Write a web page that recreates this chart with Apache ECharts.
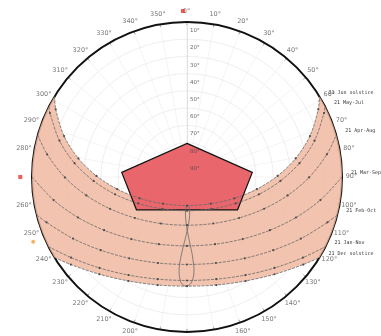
<!DOCTYPE html>
<html>
<head>
<meta charset="utf-8">
<script src="https://cdn.jsdelivr.net/npm/echarts@6/dist/echarts.min.js"></script>
<style>
  html, body { margin: 0; padding: 0; background: #ffffff; }
  #chart { width: 381px; height: 336px; }
</style>
</head>
<body>
<div id="chart"></div>
<script>
// Sun path diagram (about 40°N). Every point is [altitude°, azimuth°],
// azimuth clockwise from north, altitude 90° at the centre.

const altitudeTicks = [10, 20, 30, 40, 50, 60, 70, 80, 90];
const azimuthTicks = [0, 10, 20, 30, 40, 50, 60, 70, 80, 90, 100, 110, 120, 130, 140, 150, 160, 170,
  180, 190, 200, 210, 220, 230, 240, 250, 260, 280, 290, 300, 310, 320, 330, 340, 350];

const pathNames = ['21 Jun solstice', '21 May-Jul', '21 Apr-Aug', '21 Mar-Sep', '21 Feb-Oct', '21 Jan-Nov', '21 Dec solstice'];

// Each path runs from sunset (west) through noon to sunrise (east), hourly.
const junPath = [[0, 301.3], [4.2, 297.3], [14.8, 288.4], [26.0, 279.7], [37.4, 270.7], [48.8, 260.2], [59.8, 245.8],
  [69.2, 221.8], [73.4, 180], [69.2, 138.2], [59.8, 114.2], [48.8, 99.8], [37.4, 89.3], [26.0, 80.3], [14.8, 71.6],
  [4.2, 62.7], [0, 58.7]];
const mayJulPath = [[0, 297.1], [2.2, 295.0], [13.0, 285.9], [24.2, 277.0], [35.7, 267.6], [47.0, 256.5], [57.8, 241.5],
  [66.6, 217.6], [70.4, 180], [66.6, 142.4], [57.8, 118.5], [47.0, 103.5], [35.7, 92.4], [24.2, 83.0], [13.0, 74.1],
  [2.2, 65.0], [0, 62.9]];
const aprAugPath = [[0, 285.7], [7.7, 279.2], [19.1, 269.8], [30.6, 259.6], [41.6, 247.6], [51.5, 231.8], [59.0, 209.4],
  [62.0, 180], [59.0, 150.6], [51.5, 128.2], [41.6, 112.4], [30.6, 100.4], [19.1, 90.2], [7.7, 80.8], [0, 74.3]];
const marSepPath = [[0, 270], [11.4, 260.2], [22.5, 249.6], [32.8, 237.3], [41.6, 221.9], [47.7, 202.7], [50.0, 180],
  [47.7, 157.3], [41.6, 138.1], [32.8, 122.7], [22.5, 110.4], [11.4, 99.8], [0, 90]];
const febOctPath = [[0, 255.8], [4.3, 252.1], [14.8, 241.6], [24.3, 229.7], [32.1, 215.4], [37.3, 198.6], [39.2, 180],
  [37.3, 161.4], [32.1, 144.6], [24.3, 130.3], [14.8, 118.4], [4.3, 107.9], [0, 104.2]];
const janNovPath = [[0, 243.3], [8.0, 235.2], [16.7, 223.9], [23.7, 210.8], [28.3, 196.0], [29.9, 180],
  [28.3, 164.0], [23.7, 149.2], [16.7, 136.1], [8.0, 124.8], [0, 116.7]];
const decPath = [[0, 238.7], [5.5, 233.0], [14.0, 222.0], [20.7, 209.4], [25.0, 195.2], [26.6, 180],
  [25.0, 164.8], [20.7, 150.6], [14.0, 138.0], [5.5, 127.0], [0, 121.3]];

// Noon sun position through the year (figure of eight).
const noonAnalemma = [[26.6, 180.4], [27.0, 179.2], [28.1, 178.0], [29.9, 177.0], [33.0, 176.1], [36.0, 175.7],
  [42.2, 175.9], [46.0, 176.3], [50.0, 177.2], [54.4, 178.3], [59.8, 180.0], [65.0, 181.6], [68.6, 182.4],
  [72.0, 181.6], [73.2, 180.0], [73.4, 178.7], [73.1, 176.9], [71.7, 175.8], [69.5, 175.6], [65.6, 176.9],
  [62.0, 178.4], [58.4, 180.0], [54.5, 181.5], [50.5, 182.8], [47.0, 183.7], [43.1, 184.4], [39.1, 184.9],
  [35.0, 184.8], [30.0, 183.8], [28.2, 182.9], [27.0, 181.7], [26.6, 180.4]];

// Obstruction outline.
const obstruction = [[70.5, 0], [52, 86], [55, 123], [55, 237], [52, 274]];

// Markers just outside the horizon ring.
const redMarkers = [[-6.4, 358.6], [-6.8, 270]];
const orangeMarkers = [[-6.9, 247.2]];

const paths = [junPath, mayJulPath, aprAugPath, marSepPath, febOctPath, janNovPath, decPath];

const AZ_LABEL_ALT = -5.8;   // ring on which azimuth labels sit (outside the horizon)

const chart = echarts.init(document.getElementById('chart'), null, { renderer: 'canvas' });

function bandPolygon(params, api) {
  const pts = [];
  junPath.forEach(p => pts.push(api.coord(p)));
  const east0 = junPath[junPath.length - 1][1];
  const east1 = decPath[decPath.length - 1][1];
  for (let a = east0 + 1; a < east1; a += 1) pts.push(api.coord([0, a]));
  for (let i = decPath.length - 1; i >= 0; i--) pts.push(api.coord(decPath[i]));
  const west0 = decPath[0][1];
  const west1 = junPath[0][1];
  for (let a = west0 + 1; a < west1; a += 1) pts.push(api.coord([0, a]));
  return {
    type: 'polygon',
    shape: { points: pts, smooth: 0.3 },
    style: { fill: 'rgba(240,184,158,0.84)', stroke: 'none' }
  };
}

function obstructionPolygon(params, api) {
  return {
    type: 'polygon',
    shape: { points: obstruction.map(p => api.coord(p)) },
    style: { fill: '#e9676c', stroke: '#111111', lineWidth: 1.2 }
  };
}

const noOverlapHiding = { hideOverlap: false };

const pathSeries = paths.map((path, k) => ({
  type: 'line',
  coordinateSystem: 'polar',
  smooth: 0.3,
  clip: false,
  z: 4,
  silent: true,
  symbol: 'circle',
  symbolSize: 2.2,
  labelLayout: noOverlapHiding,
  itemStyle: { color: '#4d4d4d' },
  lineStyle: { color: '#6a6a6a', width: 0.8, type: [3, 1.2] },
  data: path.map((p, i) => {
    const item = { value: p };
    if (i === 0 || i === path.length - 1) item.symbolSize = 0;
    if (i === path.length - 1) {
      item.label = {
        show: true,
        formatter: pathNames[k],
        position: [9, -4],
        align: 'left',
        verticalAlign: 'middle',
        fontFamily: 'DejaVu Sans Mono',
        fontSize: 5,
        color: '#333333'
      };
    }
    return item;
  })
}));

const option = {
  animation: false,
  backgroundColor: '#ffffff',
  polar: { center: [187, 177], radius: 155 },
  angleAxis: {
    type: 'value', min: 0, max: 360, interval: 10, startAngle: 90, clockwise: true,
    axisLine: { lineStyle: { color: '#111111', width: 2 } },
    axisTick: { show: true, inside: true, length: 3, lineStyle: { color: '#444444', width: 0.8 } },
    axisLabel: { show: false },
    splitLine: { show: true, lineStyle: { color: '#ececec', width: 0.6 } }
  },
  radiusAxis: {
    type: 'value', min: 0, max: 90, interval: 10, inverse: true,
    axisLine: { show: true, lineStyle: { color: '#d4d4d4', width: 0.7 } },
    axisTick: { show: false },
    axisLabel: { show: false },
    splitLine: { show: true, lineStyle: { color: '#e3e3e3', width: 0.6 } }
  },
  series: [
    {
      type: 'custom', coordinateSystem: 'polar', z: 1, silent: true,
      renderItem: bandPolygon, data: [[0, 0]]
    },
    {
      type: 'custom', coordinateSystem: 'polar', z: 2, silent: true,
      renderItem: obstructionPolygon, data: [[0, 0]]
    },
    ...pathSeries,
    {
      type: 'line', coordinateSystem: 'polar', smooth: 0.4, z: 4, silent: true,
      symbol: 'none',
      lineStyle: { color: '#6a6a6a', width: 0.8 },
      data: noonAnalemma
    },
    {
      // altitude ring labels along the north axis
      type: 'scatter', coordinateSystem: 'polar', z: 6, silent: true, clip: false,
      symbolSize: 1, itemStyle: { color: 'rgba(0,0,0,0)' },
      labelLayout: noOverlapHiding,
      label: {
        show: true, position: [3.5, -8], align: 'left', verticalAlign: 'middle',
        formatter: p => p.value[0] + '°',
        fontFamily: 'DejaVu Sans', fontSize: 5.5, color: '#444444'
      },
      data: altitudeTicks.map(a => [a, 0])
    },
    {
      // azimuth labels around the horizon
      type: 'scatter', coordinateSystem: 'polar', z: 6, silent: true, clip: false,
      symbolSize: 1, itemStyle: { color: 'rgba(0,0,0,0)' },
      labelLayout: noOverlapHiding,
      label: {
        show: true, position: [0, 0], align: 'center', verticalAlign: 'middle',
        formatter: p => p.value[1] + '°',
        fontFamily: 'DejaVu Sans', fontSize: 6.5, color: '#555555'
      },
      data: azimuthTicks.map(a => [AZ_LABEL_ALT, a])
    },
    {
      type: 'scatter', coordinateSystem: 'polar', z: 7, silent: true, clip: false,
      symbol: 'rect', symbolSize: 4, itemStyle: { color: '#ee3333' },
      data: redMarkers
    },
    {
      type: 'scatter', coordinateSystem: 'polar', z: 7, silent: true, clip: false,
      symbol: 'circle', symbolSize: 4, itemStyle: { color: '#f0a040' },
      data: orangeMarkers
    }
  ]
};

chart.setOption(option);
</script>
</body>
</html>
